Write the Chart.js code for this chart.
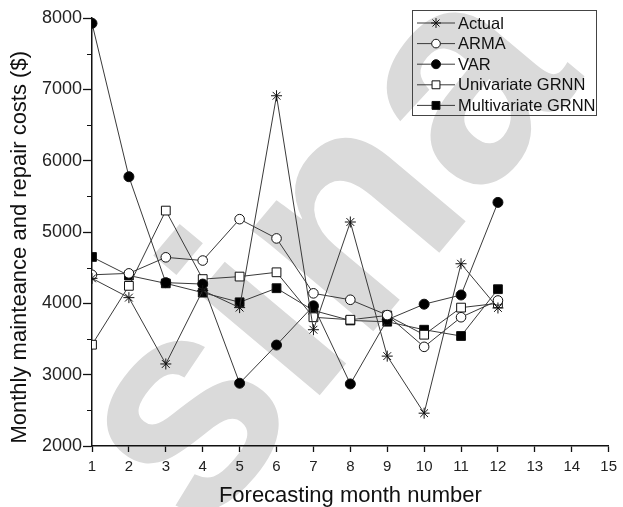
<!DOCTYPE html>
<html>
<head>
<meta charset="utf-8">
<script src="https://cdn.jsdelivr.net/npm/chart.js@4.4.1/dist/chart.umd.min.js"></script>
<style>
  html, body { margin: 0; padding: 0; background: #fff; }
  #wrap { width: 623px; height: 507px; }
</style>
</head>
<body>
<div id="wrap"><canvas id="chart"></canvas></div>
<script>
// ── Data ─────────────────────────────────────────────────
const months     = [1, 2, 3, 4, 5, 6, 7, 8, 9, 10, 11, 12];
const actual     = [4350, 4080, 3150, 4180, 3940, 6910, 3630, 5140, 3260, 2460, 4555, 3935];
const arma       = [4400, 4420, 4645, 4600, 5180, 4910, 4140, 4050, 3835, 3390, 3805, 4040];
const varModel   = [7925, 5775, 4290, 4270, 2880, 3415, 3965, 2870, 3770, 3988, 4117, 5415];
const uniGrnn    = [3420, 4245, 5300, 4340, 4375, 4435, 3805, 3770, 3830, 3560, 3940, 4000];
const multiGrnn  = [4650, 4390, 4280, 4150, 4015, 4212, 3900, 3760, 3742, 3630, 3542, 4198];
const seriesNames = ['Actual', 'ARMA', 'VAR', 'Univariate GRNN', 'Multivariate GRNN'];
const xTicks = [1, 2, 3, 4, 5, 6, 7, 8, 9, 10, 11, 12, 13, 14, 15];
const yTicks = [2000, 3000, 4000, 5000, 6000, 7000, 8000];

const FONT = '"Liberation Sans", Arial, sans-serif';
const LINE = '#3a3a3a';

const pts = vals => months.map((m, i) => ({ x: m, y: vals[i] }));

function series(label, vals, style, fill, radius) {
  return {
    label, data: pts(vals),
    borderColor: LINE, borderWidth: 1, tension: 0,
    pointStyle: style, pointRadius: radius, pointHoverRadius: radius,
    pointBackgroundColor: fill, pointBorderColor: '#111', pointBorderWidth: 1,
  };
}

// ── Plugins: watermark, minor ticks, boxed legend ────────
const watermark = {
  id: 'watermark',
  beforeDraw(chart) {
    const ctx = chart.ctx;
    ctx.save();
    ctx.translate(199, 539);
    ctx.rotate(-50 * Math.PI / 180);
    ctx.font = `bold 300px ${FONT}`;
    ctx.fillStyle = '#dadada';
    ctx.textAlign = 'left';
    ctx.textBaseline = 'alphabetic';
    ctx.fillText('sina', 0, 0);
    ctx.restore();
  }
};

const minorTicks = {
  id: 'minorTicks',
  afterDraw(chart) {
    const { ctx, scales: { x, y } } = chart;
    ctx.save();
    ctx.strokeStyle = '#111'; ctx.lineWidth = 1;
    for (let v = 2500; v < 8000; v += 1000) {
      const py = Math.round(y.getPixelForValue(v)) + 0.5;
      ctx.beginPath(); ctx.moveTo(x.left - 5, py); ctx.lineTo(x.left, py); ctx.stroke();
    }
    ctx.restore();
  }
};

const boxLegend = {
  id: 'boxLegend',
  afterDraw(chart) {
    const ctx = chart.ctx;
    ctx.save();
    ctx.strokeStyle = '#444'; ctx.lineWidth = 1;
    ctx.strokeRect(412.5, 10.5, 184, 105);
    ctx.font = `16.5px ${FONT}`;
    ctx.textBaseline = 'middle';
    chart.data.datasets.forEach((ds, i) => {
      const y = 23 + i * 20.6;
      ctx.strokeStyle = LINE; ctx.lineWidth = 1;
      ctx.beginPath(); ctx.moveTo(417, y); ctx.lineTo(455, y); ctx.stroke();
      ctx.fillStyle = ds.pointBackgroundColor; ctx.strokeStyle = '#111';
      Chart.helpers.drawPoint(ctx, { pointStyle: ds.pointStyle, radius: ds.pointRadius * 0.9, borderWidth: 1, rotation: 0 }, 436, y);
      ctx.fillStyle = '#111';
      ctx.fillText(ds.label, 458, y + 1);
    });
    ctx.restore();
  }
};

// ── Chart ────────────────────────────────────────────────
new Chart(document.getElementById('chart'), {
  type: 'line',
  data: {
    datasets: [
      series(seriesNames[0], actual,    'star',   '#fff', 5.5),
      series(seriesNames[1], arma,      'circle', '#fff', 4.8),
      series(seriesNames[2], varModel,  'circle', '#000', 5),
      series(seriesNames[3], uniGrnn,   'rect',   '#fff', 6.2),
      series(seriesNames[4], multiGrnn, 'rect',   '#000', 6.2),
    ]
  },
  options: {
    responsive: true, maintainAspectRatio: false, animation: false,
    layout: { padding: { top: 18, right: 9, left: 0, bottom: 0 } },
    plugins: { legend: { display: false }, tooltip: { enabled: false } },
    scales: {
      x: {
        type: 'linear', min: 1, max: 15,
        afterFit: s => { s.height = 61; },
        afterBuildTicks: s => { s.ticks = xTicks.map(v => ({ value: v })); },
        grid: { drawOnChartArea: false, tickLength: 6, tickColor: '#111', tickWidth: 1.3 },
        border: { color: '#111', width: 1.5 },
        ticks: { color: '#222', font: { family: FONT, size: 15 }, padding: 6, maxRotation: 0,
                 callback: v => String(v) },
        title: { display: true, text: 'Forecasting month number', color: '#111',
                 font: { family: FONT, size: 22, lineHeight: 1 }, padding: { top: 0, bottom: 0 } },
      },
      y: {
        min: 2000, max: 8000,
        afterFit: s => { s.width = 92; },
        afterBuildTicks: s => { s.ticks = yTicks.map(v => ({ value: v })); },
        grid: { drawOnChartArea: false, tickLength: 9, tickColor: '#111', tickWidth: 1.3 },
        border: { color: '#111', width: 1.5 },
        ticks: { color: '#222', font: { family: FONT, size: 18 }, padding: 1,
                 callback: v => String(v) },
        title: { display: true, text: 'Monthly mainteance and repair costs ($)\u00a0\u00a0\u00a0\u00a0\u00a0', color: '#111',
                 font: { family: FONT, size: 22, lineHeight: 1 }, padding: { top: 9, bottom: 0 } },
      },
    },
  },
  plugins: [watermark, minorTicks, boxLegend],
});
</script>
</body>
</html>
